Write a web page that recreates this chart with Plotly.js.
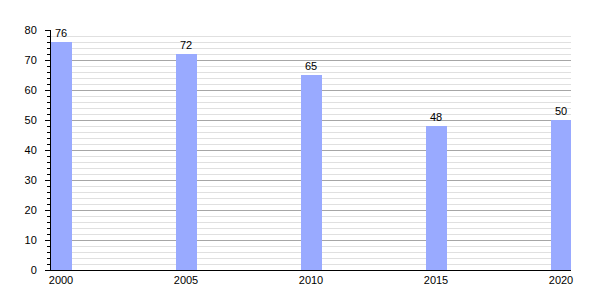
<!DOCTYPE html>
<html><head><meta charset="utf-8">
<script src="https://cdn.plot.ly/plotly-3.0.1.min.js"></script>
<style>html,body{margin:0;padding:0;background:#fff}#chart{width:600px;height:300px}</style>
</head><body><div id="chart"></div>
<script>
const years = [2000, 2005, 2010, 2015, 2020];
const values = [76, 72, 65, 48, 50];
const yTicks = [0, 10, 20, 30, 40, 50, 60, 70, 80];

const trace = {
  type: 'bar',
  x: years,
  y: values,
  width: 0.84,
  marker: {color: 'rgb(153,170,255)', line: {width: 0}},
  text: values.map(String),
  textposition: 'outside',
  cliponaxis: false,
  textfont: {family: 'Liberation Sans, Arial, sans-serif', size: 11, color: '#000'},
  hoverinfo: 'none'
};

const layout = {
  width: 600, height: 300,
  margin: {l: 51, r: 29, t: 30, b: 30},
  paper_bgcolor: '#fff', plot_bgcolor: '#fff',
  showlegend: false,
  font: {family: 'Liberation Sans, Arial, sans-serif', size: 11, color: '#000'},
  xaxis: {
    range: [1999.6, 2020.4],
    tickvals: years,
    ticktext: years.map(String),
    showgrid: false,
    zeroline: false,
    showline: true, linecolor: '#000', linewidth: 1,
    ticks: '',
    tickfont: {size: 11, color: '#000'}
  },
  yaxis: {
    range: [0, 80],
    tickvals: yTicks,
    showgrid: true, gridcolor: '#a6a6a6', gridwidth: 1,
    zeroline: false,
    showline: true, linecolor: '#000', linewidth: 1,
    ticks: 'outside', ticklen: 5, tickcolor: '#000',
    ticklabelstandoff: 6,
    tickfont: {size: 11, color: '#000'},
    minor: {dtick: 2, showgrid: true, gridcolor: '#e0e0e0', gridwidth: 1, ticks: 'outside', ticklen: 3, tickcolor: '#000'}
  },
  bargap: 0
};

Plotly.newPlot('chart', [trace], layout, {staticPlot: true, displayModeBar: false});
</script>
</body></html>
